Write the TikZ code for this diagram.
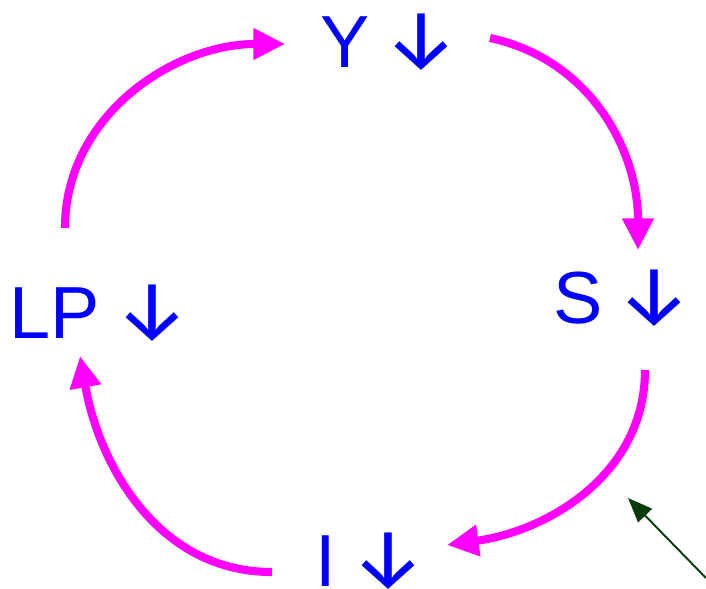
\documentclass[tikz,border=0pt]{standalone}
\usepackage{fontspec}
\setmainfont{Liberation Sans}
\newfontfamily\arrowfont{Fira Sans}
\usetikzlibrary{arrows.meta,calc}
\definecolor{cycleMagenta}{RGB}{255,0,255}
\definecolor{pointerGreen}{RGB}{10,60,10}
\newcommand{\fallArrow}{{\kern-3.4pt\arrowfont\fontsize{48}{50}\selectfont ↓}}
\begin{document}
\begin{tikzpicture}[x=0.02cm, y=-0.02cm]
			
			% Styles for the labels and the arrows of the cycle
			\tikzset{
				varLabel/.style={anchor=base, inner sep=0pt, text=blue, font=\fontsize{42}{50}\selectfont},
				cycleArrow/.style={line width=4.6pt, cycleMagenta, -{Triangle[length=18pt, width=17pt]}},
				pointerArrow/.style={line width=1.1pt, pointerGreen, -{Triangle[length=14pt, width=11pt]}}
			}
			
			% Frame of the picture (706 x 588 px)
			\useasboundingbox (0,0) rectangle (706,588);
			
			% The four quantities, placed by their base line
			\node[varLabel] (y) at (390,68) {Y \fallArrow};
			\node[varLabel] (s) at (623,323) {S \fallArrow};
			\node[varLabel] (i) at (371,586) {I \fallArrow};
			\node[varLabel] (lp) at (100,338) {LP \fallArrow};
			
			% Cycle: LP -> Y -> S -> I -> LP
			\draw[cycleArrow] ($(lp.base)+(-35,-110)$) to[out=90, in=180] ($(y.base)+(-105,-24)$);
			\draw[cycleArrow] ($(y.base)+(100,-30)$) to[out=-12, in=90] ($(s.base)+(15,-73)$);
			\draw[cycleArrow] ($(s.base)+(22,47)$) to[out=-90, in=8] ($(i.base)+(76,-41)$);
			\draw[cycleArrow] ($(i.base)+(-99,-14)$) to[out=180, in=-80] ($(lp.base)+(-20,18)$);
			
			% Pointer from the lower right corner
			\coordinate (pointerEnd) at (706,578);
			\coordinate (pointerTip) at (628,498);
			\draw[pointerArrow] (pointerEnd) -- (pointerTip);
			
\end{tikzpicture}
\end{document}
